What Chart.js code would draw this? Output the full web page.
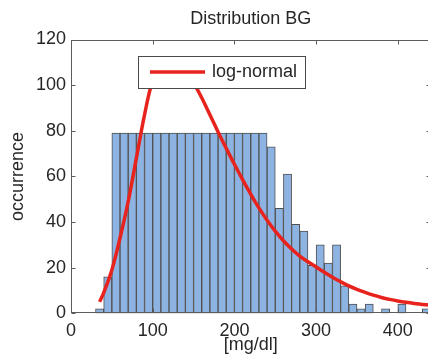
<!DOCTYPE html>
<html>
<head>
<meta charset="utf-8">
<script src="https://cdn.jsdelivr.net/npm/chart.js@4/dist/chart.umd.min.js"></script>
<style>
  html, body { margin: 0; padding: 0; background: #fff; }
  #wrap { width: 428px; height: 364px; overflow: hidden; }
</style>
</head>
<body>
<div id="wrap"><canvas id="chart" width="432" height="364"></canvas></div>
<script>
// Histogram bins (10 mg/dl wide), given by centre
const binCenters = [35, 45, 55, 65, 75, 85, 95, 105, 115, 125, 135, 145, 155, 165, 175, 185, 195, 205, 215, 225,
  235, 245, 255, 265, 275, 285, 295, 305, 315, 325, 335, 345, 355, 365, 375, 385, 395, 405, 415, 425, 435];
const binCounts = [2, 16, 79, 79, 79, 79, 79, 79, 79, 79, 79, 79, 79, 79, 79, 79, 79, 79, 79, 79,
  79, 73, 46, 61, 39, 36, 21, 30, 22, 30, 12, 4, 2, 4, 0, 2, 0, 4, 0, 0, 2];

// Fitted log-normal curve
const fitX = [35, 40, 50, 60, 70, 80, 90, 100, 110, 120, 130, 140, 150, 160, 170, 180, 190, 200, 210, 220,
  230, 240, 250, 260, 270, 280, 290, 300, 310, 320, 330, 340, 350, 360, 370, 380, 390, 400, 410, 420, 430, 440];
const fitY = [5, 9, 19, 33, 49, 68, 87, 102, 109, 111, 110, 106.5, 101, 94.5, 87, 79.5, 72.3, 65.3, 58.6, 52.2,
  46.2, 40.8, 36, 31.8, 28.2, 25.1, 22.6, 20.3, 18, 15.8, 13.8, 12, 10.5, 9.2, 8, 6.9, 6.1, 5.4, 4.8, 4.3, 3.9, 3.5];

const xTicks = [0, 100, 200, 300, 400];
const yTicks = [0, 20, 40, 60, 80, 100, 120];

const FONT = "'Liberation Sans', Arial, Helvetica, sans-serif";
const AXIS_COLOR = '#5c5c5c';
const TEXT_COLOR = '#262626';

// MATLAB-like box with inward ticks, and the legend on top of the curve
const boxPlugin = {
    id: 'box',
    afterDatasetsDraw(chart) {
        const { ctx, chartArea: a, scales } = chart;
        const L = Math.round(a.left) + 0.5, R = Math.round(a.right) - 0.5;
        const T = Math.round(a.top) + 0.5, B = Math.round(a.bottom) - 0.5;
        const tl = 4;
        ctx.save();
        ctx.strokeStyle = AXIS_COLOR;
        ctx.lineWidth = 1;
        ctx.strokeRect(L, T, R - L, B - T);
        ctx.beginPath();
        xTicks.forEach(v => {
            const px = Math.round(scales.x.getPixelForValue(v)) + 0.5;
            ctx.moveTo(px, B); ctx.lineTo(px, B - tl);
            ctx.moveTo(px, T); ctx.lineTo(px, T + tl);
        });
        yTicks.forEach(v => {
            const py = Math.round(scales.y.getPixelForValue(v)) + 0.5;
            ctx.moveTo(L, py); ctx.lineTo(L + tl, py);
            ctx.moveTo(R, py); ctx.lineTo(R - tl, py);
        });
        ctx.stroke();

        // legend
        const ds = chart.data.datasets[0];
        ctx.fillStyle = '#fff';
        ctx.fillRect(138, 56, 168, 33);
        ctx.strokeStyle = '#4a4a4a';
        ctx.strokeRect(138.5, 56.5, 167, 32);
        ctx.strokeStyle = ds.borderColor;
        ctx.lineWidth = ds.borderWidth;
        ctx.beginPath();
        ctx.moveTo(150, 72); ctx.lineTo(205, 72);
        ctx.stroke();
        ctx.fillStyle = TEXT_COLOR;
        ctx.font = '18px ' + FONT;
        ctx.textBaseline = 'middle';
        ctx.textAlign = 'left';
        ctx.fillText(ds.label, 212, 72);
        ctx.restore();
    }
};

new Chart(document.getElementById('chart'), {
    type: 'bar',
    data: {
        datasets: [
            {
                type: 'line',
                label: 'log-normal',
                data: fitX.map((x, i) => ({ x, y: fitY[i] })),
                borderColor: '#e8221c',
                borderWidth: 3.5,
                pointRadius: 0,
                tension: 0.4,
                order: 0
            },
            {
                type: 'bar',
                label: 'BG',
                data: binCenters.map((x, i) => ({ x, y: binCounts[i] })),
                backgroundColor: '#8db3e2',
                borderColor: '#505050',
                borderWidth: 1,
                borderSkipped: false,
                barPercentage: 1,
                categoryPercentage: 1,
                order: 1
            }
        ]
    },
    options: {
        responsive: false,
        animation: false,
        devicePixelRatio: 1,
        layout: { padding: { left: 0, right: 1.5, top: 0, bottom: 0 } },
        plugins: {
            legend: { display: false },
            tooltip: { enabled: false },
            title: {
                display: true,
                text: 'Distribution BG',
                fullSize: false,
                color: TEXT_COLOR,
                font: { family: FONT, size: 18, weight: 'normal' },
                padding: { top: 8, bottom: 9.9 }
            }
        },
        scales: {
            x: {
                type: 'linear',
                min: 0,
                max: 440,
                offset: false,
                grid: { display: false, drawTicks: false },
                border: { display: false },
                afterBuildTicks: s => { s.ticks = xTicks.map(v => ({ value: v })); },
                afterFit: s => { s.height = 50.7; },
                ticks: { color: TEXT_COLOR, padding: 7, maxRotation: 0, font: { family: FONT, size: 18 } },
                title: {
                    display: true,
                    text: '[mg/dl]',
                    color: TEXT_COLOR,
                    font: { family: FONT, size: 18 },
                    padding: { top: 0, bottom: 8 }
                }
            },
            y: {
                min: 0,
                max: 120,
                grid: { display: false, drawTicks: false },
                border: { display: false },
                afterBuildTicks: s => { s.ticks = yTicks.map(v => ({ value: v })); },
                afterFit: s => { s.width = 71; },
                ticks: { color: TEXT_COLOR, padding: 5, font: { family: FONT, size: 18 } },
                title: {
                    display: true,
                    text: 'occurrence',
                    color: TEXT_COLOR,
                    font: { family: FONT, size: 18 },
                    padding: { top: 7.5, bottom: 0 }
                }
            }
        }
    },
    plugins: [boxPlugin]
});
</script>
</body>
</html>
